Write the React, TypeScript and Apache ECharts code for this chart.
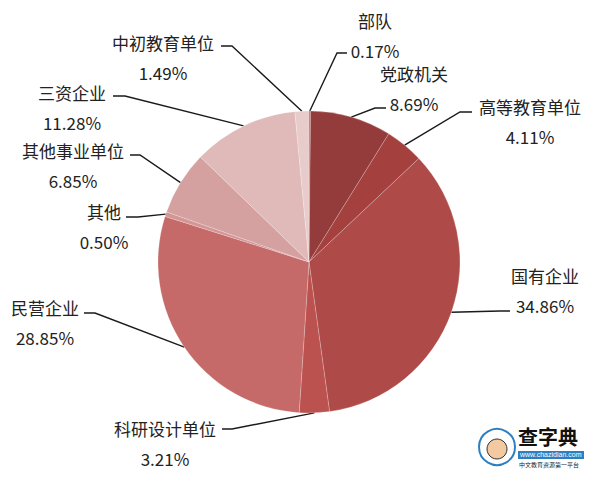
import React, { useEffect, useRef } from "react";
import * as echarts from "echarts";

const categories = ["部队", "党政机关", "高等教育单位", "国有企业", "科研设计单位", "民营企业", "其他", "其他事业单位", "三资企业", "中初教育单位"];
const shares = [0.17, 8.69, 4.11, 34.86, 3.21, 28.85, 0.5, 6.85, 11.28, 1.49];
const sliceColors = ["#b86a6a", "#943c3b", "#a4413f", "#ae4a47", "#bb524f", "#c56a68", "#d39595", "#d4a1a0", "#dfbab9", "#e8cccb"];
// label block centres (layout only)
const labelSpots: [number, number][] = [
  [375, 35], [414, 88], [530, 121], [545, 290], [165, 443],
  [45, 322], [104, 226], [73, 165], [72, 107], [163, 57],
];
// leader line elbow and end points (layout only)
const leaderEnds: [number, number][][] = [
  [[337, 53], [347, 53]],
  [[375, 108], [386, 108]],
  [[460, 112], [472, 112]],
  [[500, 311], [510, 311]],
  [[232, 429], [222, 429]],
  [[95, 313], [84, 313]],
  [[138, 217], [126, 217]],
  [[140, 155], [130, 155]],
  [[125, 96], [113, 96]],
  [[232, 46], [221, 46]],
];

export default function App() {
  const ref = useRef<HTMLDivElement>(null);
  useEffect(() => {
    document.body.style.margin = "0";
    const chart = echarts.init(ref.current!, null, { renderer: "svg" });
    chart.setOption({
      animation: false,
      backgroundColor: "#ffffff",
      textStyle: { fontFamily: "'Noto Sans CJK SC', 'Noto Sans', sans-serif" },
      series: [
        {
          type: "pie",
          center: [309, 262],
          radius: [0, 151],
          startAngle: 90,
          clockwise: true,
          avoidLabelOverlap: false,
          data: categories.map((c, i) => ({ name: c, value: shares[i], itemStyle: { color: sliceColors[i] } })),
          itemStyle: { borderColor: "rgba(255,255,255,0.35)", borderWidth: 0.6 },
          label: {
            show: true,
            position: "outside",
            formatter: (p: any) => `${p.name}\n${Number(p.value).toFixed(2)}%`,
            color: "#222",
            fontSize: 17,
            lineHeight: 30,
            align: "center",
            fontFamily: "'Noto Sans CJK SC', sans-serif",
          },
          labelLine: { show: true, length: 10, length2: 10, lineStyle: { color: "#1a1a1a", width: 1.4 } },
          labelLayout: (p: any) => {
            const s = labelSpots[p.dataIndex];
            const e = leaderEnds[p.dataIndex];
            const start = p.labelLinePoints ? p.labelLinePoints[0] : e[0];
            return {
              x: s[0],
              y: s[1],
              align: "center",
              verticalAlign: "middle",
              labelLinePoints: [start, e[0], e[1]],
            };
          },
          emphasis: { disabled: true },
        },
      ],
      graphic: [
        { type: "circle", shape: { cx: 497, cy: 447, r: 18 }, style: { fill: "#fff", stroke: "#2d7fc1", lineWidth: 2 } },
        { type: "circle", shape: { cx: 497, cy: 449, r: 10 }, style: { fill: "#f2c9a0", stroke: "#333", lineWidth: 1 } },
        { type: "text", x: 518, y: 426, style: { text: "查字典", fontSize: 20, fontWeight: "bold", fill: "#111", fontFamily: "'Noto Sans CJK SC', sans-serif" } },
        { type: "rect", shape: { x: 518, y: 451, width: 66, height: 8 }, style: { fill: "#2d7fc1" } },
        { type: "text", x: 520, y: 451, style: { text: "www.chazidian.com", fontSize: 7, fill: "#fff", fontFamily: "sans-serif" } },
        { type: "text", x: 519, y: 461, style: { text: "中文教育资源第一平台", fontSize: 6, fill: "#222", fontFamily: "'Noto Sans CJK SC', sans-serif" } },
      ],
    });
    return () => chart.dispose();
  }, []);
  return <div ref={ref} style={{ width: 600, height: 479 }} />;
}
